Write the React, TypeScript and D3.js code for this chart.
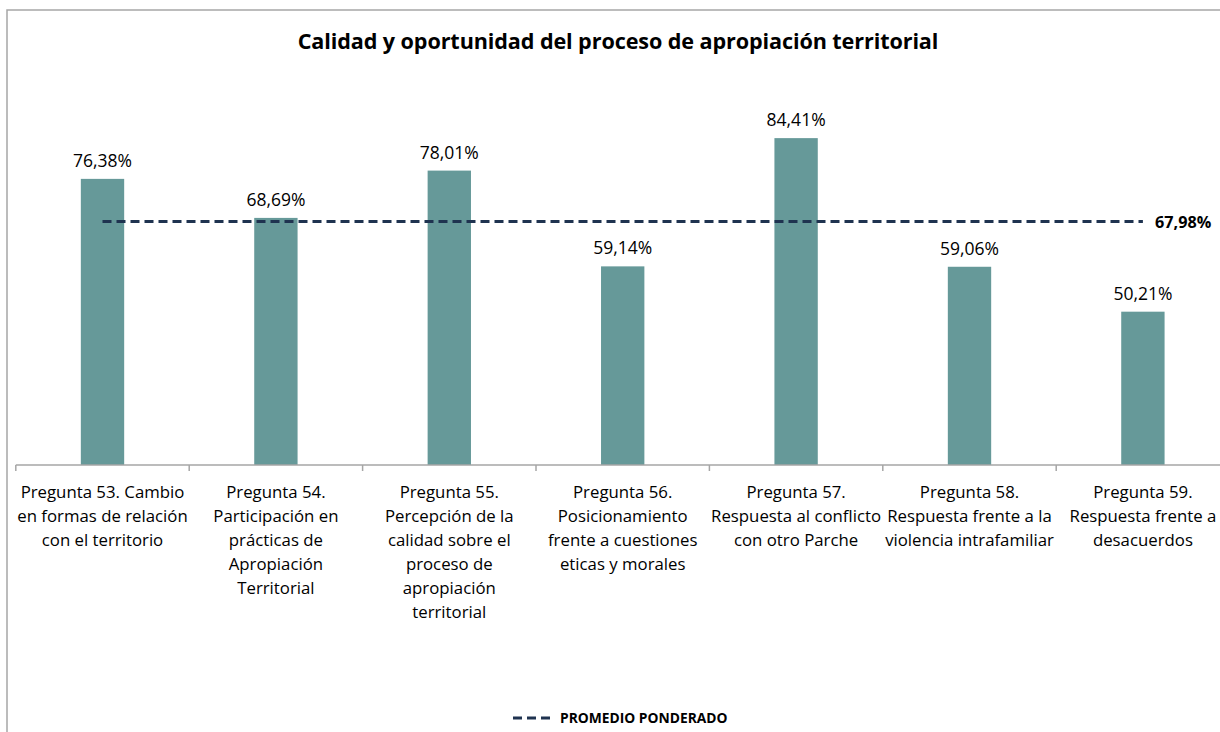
import React from "react";
import * as d3 from "d3";

const categories: string[][] = [
  ["Pregunta 53. Cambio", "en formas de relación", "con el territorio"],
  ["Pregunta 54.", "Participación en", "prácticas de", "Apropiación", "Territorial"],
  ["Pregunta 55.", "Percepción de la", "calidad sobre el", "proceso de", "apropiación", "territorial"],
  ["Pregunta 56.", "Posicionamiento", "frente a cuestiones", "eticas y morales"],
  ["Pregunta 57.", "Respuesta al conflicto", "con otro Parche"],
  ["Pregunta 58.", "Respuesta frente a la", "violencia intrafamiliar"],
  ["Pregunta 59.", "Respuesta frente a", "desacuerdos"],
];
const values: number[] = [76.38, 68.69, 78.01, 59.14, 84.41, 59.06, 50.21];
const average = 67.98;
const yDomain: [number, number] = [20, 100];
const title = "Calidad y oportunidad del proceso de apropiación territorial";
const legendLabel = "PROMEDIO PONDERADO";

const fmt = (v: number) => v.toFixed(2).replace(".", ",") + "%";
const FONT = "'Open Sans', sans-serif";

export default function App() {
  const W = 1220, H = 732;
  const x0 = 15.8, x1 = 15.8 + 7 * 173.4;
  const axisY = 465;
  const x = d3.scaleBand<number>().domain(d3.range(values.length)).range([x0, x1]).paddingInner(0.75).paddingOuter(0.375);
  const xb = d3.scaleBand<number>().domain(d3.range(values.length)).range([x0, x1]);
  const y = d3.scaleLinear().domain(yDomain).range([axisY, 59]);
  const bw = x.bandwidth();
  const centers = values.map((_, i) => (xb(i) as number) + xb.bandwidth() / 2);
  const avgLine = d3.line<number>()(
    [[centers[0], y(average)], [centers[centers.length - 1], y(average)]] as any
  ) as string;

  return (
    <svg width={W} height={H} style={{ position: "absolute", left: 0, top: 0, background: "#fff" }} fontFamily={FONT}>
      <rect x={7} y={10} width={W} height={H} fill="#fff" stroke="#a6a6a6" strokeWidth={1.5} />
      <text x={618} y={49} textAnchor="middle" fontSize={21.6} fontWeight="bold" fill="#000" letterSpacing={-0.1}>{title}</text>
      {values.map((v, i) => (
        <rect key={"b" + i} x={centers[i] - bw / 2} y={y(v)} width={bw} height={axisY - y(v)} fill="#669999" />
      ))}
      <line x1={x0} x2={x1} y1={axisY} y2={axisY} stroke="#a6a6a6" strokeWidth={1.5} />
      {d3.range(values.length + 1).map((i) => {
        const tx = x0 + i * xb.bandwidth();
        return <line key={"t" + i} x1={tx} x2={tx} y1={axisY} y2={axisY + 6} stroke="#a6a6a6" strokeWidth={1.5} />;
      })}
      {values.map((v, i) => (
        <text key={"l" + i} x={centers[i]} y={y(v) - 12} textAnchor="middle" fontSize={17.5} fill="#000">{fmt(v)}</text>
      ))}
      <path d={avgLine} stroke="#1f3350" strokeWidth={3} strokeDasharray="9,5" fill="none" />
      <text x={1155} y={y(average) + 6} fontSize={16.2} fontWeight="bold" fill="#000">{fmt(average)}</text>
      {categories.map((lines, i) => (
        <text key={"c" + i} x={centers[i]} y={498} textAnchor="middle" fontSize={16.8} fill="#000">
          {lines.map((ln, j) => (
            <tspan key={j} x={centers[i]} dy={j === 0 ? 0 : 24}>{ln}</tspan>
          ))}
        </text>
      ))}
      <line x1={513} x2={553} y1={718} y2={718} stroke="#1f3350" strokeWidth={3} strokeDasharray="9,5" />
      <text x={560} y={723} fontSize={13.8} fontWeight="bold" fill="#000">{legendLabel}</text>
    </svg>
  );
}
